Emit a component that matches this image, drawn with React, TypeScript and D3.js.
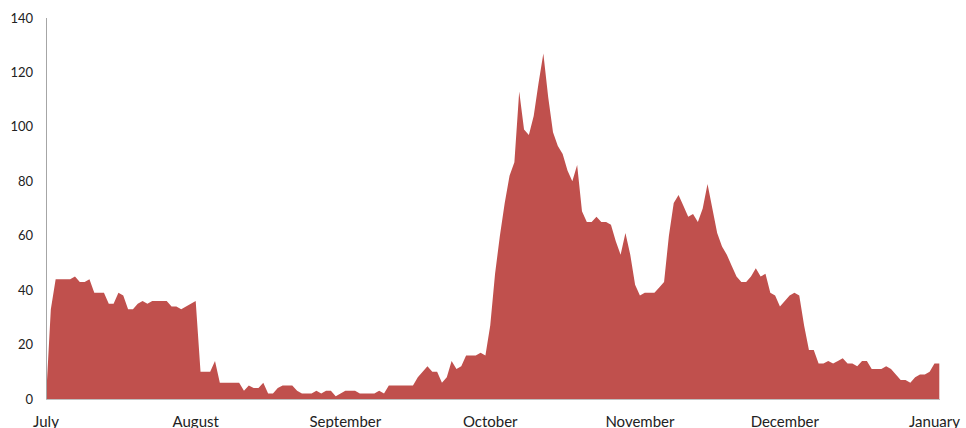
import React, { useEffect, useRef } from 'react'
import * as d3 from 'd3'

// daily counts, 1 July -> 1 January
const startDate = new Date(2013, 6, 1)
const values = [
    0, 33, 44, 44, 44, 44, 45, 43, 43, 44,
    39, 39, 39, 35, 35, 39, 38, 33, 33, 35,
    36, 35, 36, 36, 36, 36, 34, 34, 33, 34,
    35, 36, 10, 10, 10, 14, 6, 6, 6, 6,
    6, 3, 5, 4, 4, 6, 2, 2, 4, 5,
    5, 5, 3, 2, 2, 2, 3, 2, 3, 3,
    1, 2, 3, 3, 3, 2, 2, 2, 2, 3,
    2, 5, 5, 5, 5, 5, 5, 8, 10, 12,
    10, 10, 6, 8, 14, 11, 12, 16, 16, 16,
    17, 16, 27, 46, 60, 72, 82, 87, 113, 99,
    97, 104, 116, 127, 111, 98, 93, 90, 84, 80,
    86, 69, 65, 65, 67, 65, 65, 64, 58, 53,
    61, 53, 42, 38, 39, 39, 39, 41, 43, 60,
    72, 75, 71, 67, 68, 65, 70, 79, 70, 61,
    56, 53, 49, 45, 43, 43, 45, 48, 45, 46,
    39, 38, 34, 36, 38, 39, 38, 27, 18, 18,
    13, 13, 14, 13, 14, 15, 13, 13, 12, 14,
    14, 11, 11, 11, 12, 11, 9, 7, 7, 6,
    8, 9, 9, 10, 13, 13
]
const yTicks = [0, 20, 40, 60, 80, 100, 120, 140]

export default function App() {
    const el = useRef<SVGSVGElement | null>(null)

    useEffect(() => {
        makeChart(el.current)
    }, [])

    return (
        <svg
            ref={el}
            width={966}
            height={428}
            style={{ position: 'absolute', left: 0, top: 0, background: '#fff' }}
        />
    )
}

function makeChart(node: SVGSVGElement | null) {
    if (!node)
        return
    const svg = d3.select(node)
    svg.selectAll('*').remove()

    const data = values.map((v, i) => ({ date: d3.timeDay.offset(startDate, i), v }))
    const endDate = data[data.length - 1].date

    const x = d3.scaleTime().domain([startDate, endDate]).range([46, 939.3])
    const y = d3.scaleLinear().domain([0, 140]).range([399, 18])

    const area = d3.area<{ date: Date, v: number }>()
        .x((d) => x(d.date))
        .y0(y(0))
        .y1((d) => y(d.v))

    svg.append('path')
        .datum(data)
        .attr('d', area)
        .attr('fill', '#c0504d')

    // axes lines
    svg.append('line')
        .attr('x1', 46.5).attr('x2', 46.5)
        .attr('y1', y(140)).attr('y2', y(0) + 1)
        .attr('stroke', '#a6a6a6')
    svg.append('line')
        .attr('x1', 46).attr('x2', 940)
        .attr('y1', y(0) + 0.5).attr('y2', y(0) + 0.5)
        .attr('stroke', '#bfbfbf')

    const font = 'Lato, "Open Sans", sans-serif'

    svg.append('g')
        .selectAll('text')
        .data(yTicks)
        .enter()
        .append('text')
        .attr('x', 33)
        .attr('y', (d) => y(d))
        .attr('dy', '0.35em')
        .attr('text-anchor', 'end')
        .attr('font-family', font)
        .attr('font-size', 13)
        .attr('fill', '#222')
        .text((d) => d)

    const months = x.ticks(d3.timeMonth.every(1)!)
    svg.append('g')
        .selectAll('text')
        .data(months)
        .enter()
        .append('text')
        .attr('x', (d) => x(d))
        .attr('y', 427)
        .attr('text-anchor', 'middle')
        .attr('font-family', font)
        .attr('font-size', 15)
        .attr('fill', '#222')
        .text((d) => d3.timeFormat('%B')(d))
}
